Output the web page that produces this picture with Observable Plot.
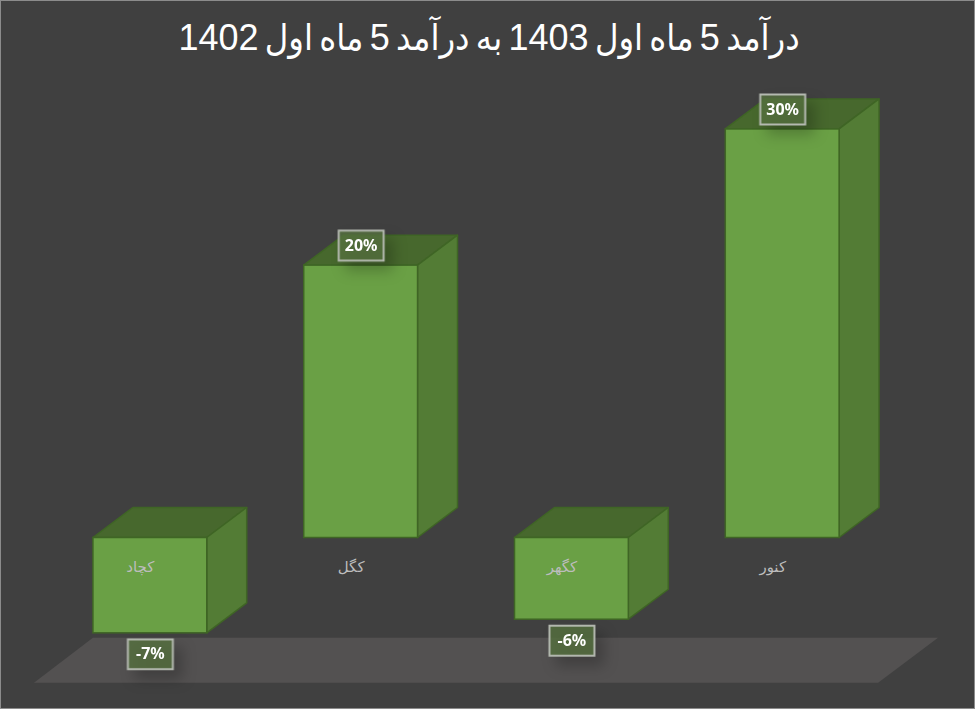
<!DOCTYPE html>
<html lang="fa">
<head>
<meta charset="utf-8">
<script src="https://cdn.jsdelivr.net/npm/d3@7"></script>
<script src="https://cdn.jsdelivr.net/npm/@observablehq/plot@0.6"></script>
<style>
html,body{margin:0;padding:0;background:#404040}
#frame{box-sizing:border-box;width:975px;height:709px;background:#404040;border:1px solid #8c8c8c;overflow:hidden;position:relative}
#title{position:absolute;left:1.5px;top:0;width:973px;height:70px;text-align:center;color:#fff;font:36px/74px "Liberation Sans","DejaVu Sans Condensed",Arial,sans-serif;direction:rtl;white-space:nowrap;word-spacing:-3.7px}
#chart{position:absolute;left:-1px;top:70px}
#chart svg{background:none;display:block}
</style>
</head>
<body>
<div id="frame">
  <div id="title">درآمد 5 ماه اول 1403 به درآمد 5 ماه اول 1402</div>
  <div id="chart"></div>
</div>
<script>
const categories = ["کچاد", "کگل", "کگهر", "کنور"];
const changes = [-7, 20, -6, 30];
const labels = ["-7%", "20%", "-6%", "30%"];
const labelLevel = -2.13;

const rows = categories.map((c, i) => ({category: c, value: changes[i], label: labels[i]}));

const depthX = 40, depthY = -30;
const boxSymbol = {draw(ctx) { ctx.rect(-22.5, -15, 45, 30); }};

function withDepth(index, scales, values, dims, ctx, next) {
  const g = next(index, scales, values, dims, ctx);
  const rects = Array.from(g.querySelectorAll("rect"));
  for (const r of rects) {
    const x = +r.getAttribute("x"), y = +r.getAttribute("y");
    const w = +r.getAttribute("width"), h = +r.getAttribute("height");
    const faces = [
      {fill: "#47682d", pts: [[x, y], [x + depthX, y + depthY], [x + w + depthX, y + depthY], [x + w, y]]},
      {fill: "#537c35", pts: [[x + w, y], [x + w + depthX, y + depthY], [x + w + depthX, y + h + depthY], [x + w, y + h]]}
    ];
    for (const f of faces) {
      const p = document.createElementNS("http://www.w3.org/2000/svg", "polygon");
      p.setAttribute("points", f.pts.map(q => q.join(",")).join(" "));
      p.setAttribute("fill", f.fill);
      p.setAttribute("stroke", "#3f6525");
      p.setAttribute("stroke-width", "1.5");
      p.setAttribute("stroke-linejoin", "round");
      r.parentNode.insertBefore(p, r);
    }
  }
  return g;
}

function floorMark(index, scales) {
  const top = scales.y(-7.36), bottom = scales.y(-10.66);
  const p = d3.create("svg:polygon")
    .attr("points", [[93, top], [939, top], [879, bottom], [34, bottom]].map(q => q.join(",")).join(" "))
    .attr("fill", "#535151");
  return p.node();
}

const above = rows.filter(d => d.value >= 0), below = rows.filter(d => d.value < 0);
const labelMarks = (data, dy) => [
  Plot.dot(data, {
    x: "category", y: "value", dy, symbol: boxSymbol,
    fill: "#55713f", fillOpacity: 0.8, stroke: "#b4b9b0", strokeWidth: 2,
    imageFilter: "drop-shadow(8px 9px 7px rgba(0,0,0,0.28))"
  }),
  Plot.text(data, {
    x: "category", y: "value", dy, text: "label",
    fill: "#ffffff", fontSize: 16, fontWeight: 700, fontFamily: "'Noto Sans', sans-serif"
  })
];

const plot = Plot.plot({
  width: 975,
  height: 639,
  marginTop: 0, marginRight: 0, marginBottom: 0, marginLeft: 0,
  style: {background: "none"},
  x: {domain: categories, range: [44.5, 888.5], paddingInner: 0.46, paddingOuter: 0.23, round: false, axis: null},
  y: {domain: [-7, 30], range: [632.4 - 70, 128 - 70], axis: null},
  marks: [
    floorMark,
    Plot.barY(rows, {
      x: "category", y: "value",
      fill: "#6aa045", stroke: "#3f6525", strokeWidth: 1.5,
      render: withDepth
    }),
    Plot.text(rows, {
      x: "category", y: () => labelLevel, text: "category", dx: -10,
      fill: "#bdbdbd", fontSize: 15, fontFamily: "'DejaVu Sans', sans-serif"
    }),
    ...labelMarks(above, -20),
    ...labelMarks(below, 21)
  ]
});
document.getElementById("chart").append(plot);
</script>
</body>
</html>
